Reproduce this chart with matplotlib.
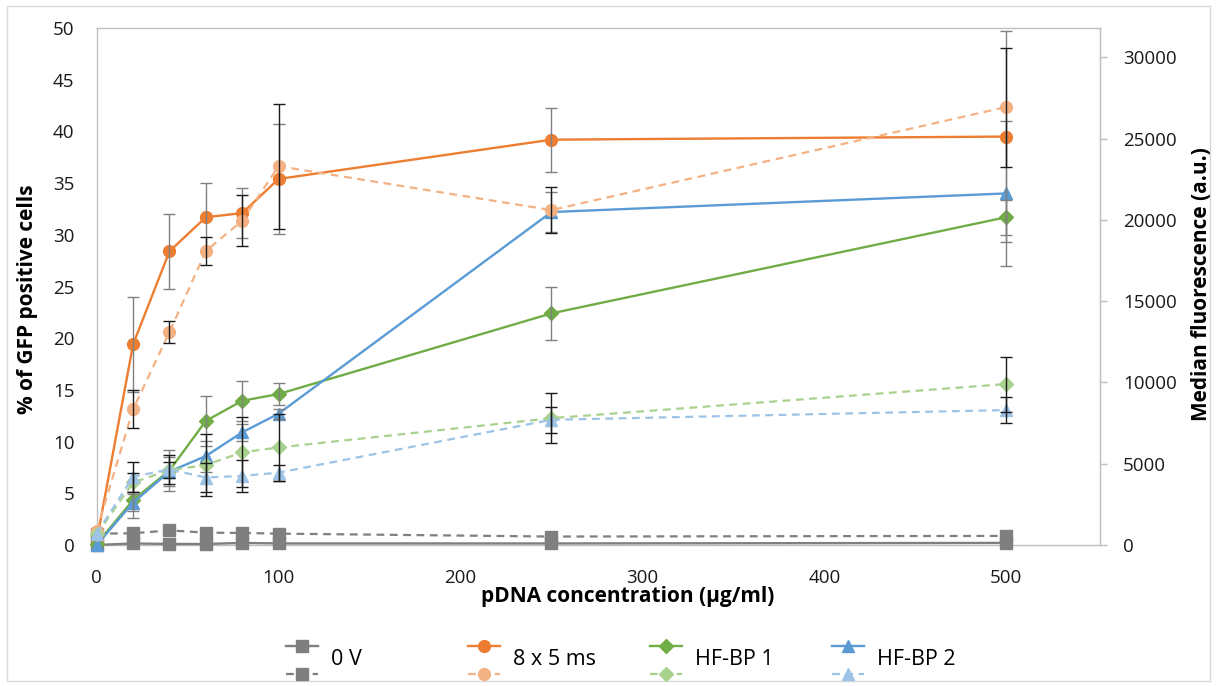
import numpy as np
import matplotlib
matplotlib.use("Agg")
import matplotlib.pyplot as plt
from matplotlib.lines import Line2D
from matplotlib.legend_handler import HandlerBase
from matplotlib.patches import Rectangle

plt.rcParams['font.family'] = ['Open Sans', 'DejaVu Sans']

# ---- data -----------------------------------------------------------------
conc = [0, 20, 40, 60, 80, 100, 250, 500]          # pDNA concentration (ug/ml)

# % of GFP positive cells (left axis, solid lines)
gfp_0v   = [0.0, 0.15, 0.1, 0.1, 0.2, 0.15, 0.15, 0.2]
gfp_8x5  = [0.4, 19.4, 28.4, 31.7, 32.1, 35.4, 39.2, 39.5]
gfp_hf1  = [0.1, 4.35, 7.2, 12.0, 13.95, 14.6, 22.4, 31.7]
gfp_hf2  = [0.0, 4.1, 7.1, 8.6, 10.9, 12.7, 32.2, 34.0]
nan = np.nan
gfp_err_0v  = [nan, nan, nan, nan, nan, nan, nan, nan]
gfp_err_8x5 = [nan, 4.6, 3.6, 3.3, 2.4, 5.3, 3.1, 10.2]
gfp_err_hf1 = [nan, 1.7, 2.0, 2.4, 1.95, 1.1, 2.6, 1.7]
gfp_err_hf2 = [nan, 0.8, 1.4, 1.5, 0.8, 0.5, 1.9, 7.0]

# Median fluorescence (right axis, dashed lines)
mfi_0v  = [700, 720, 900, 760, 740, 700, 520, 560]
mfi_8x5 = [880, 8340, 13100, 18080, 19950, 23300, 20600, 26940]
mfi_hf1 = [650, 3850, 4600, 4920, 5700, 6000, 7800, 9900]
mfi_hf2 = [700, 4200, 4650, 4150, 4250, 4450, 7700, 8300]
mfi_err_0v  = [nan, nan, nan, nan, nan, nan, nan, nan]
mfi_err_8x5 = [nan, 1170, 650, 850, 1550, 3850, 1400, 3660]
mfi_err_hf1 = [nan, 600, 500, 1900, 2150, 2050, 1540, 1690]
mfi_err_hf2 = [nan, 920, 900, 880, 980, 500, 800, 800]

labels = ['0 V', '8 x 5 ms', 'HF-BP 1', 'HF-BP 2']
gfp_sets = [gfp_0v, gfp_8x5, gfp_hf1, gfp_hf2]
gfp_errs = [gfp_err_0v, gfp_err_8x5, gfp_err_hf1, gfp_err_hf2]
mfi_sets = [mfi_0v, mfi_8x5, mfi_hf1, mfi_hf2]
mfi_errs = [mfi_err_0v, mfi_err_8x5, mfi_err_hf1, mfi_err_hf2]

dark_colors = ['#7f7f7f', '#ed7d31', '#70ad47', '#5b9bd5']
light_colors = ['#7f7f7f', '#f4b183', '#a9d18e', '#9dc3e6']
markers = ['s', 'o', 'D', '^']
msizes = [8, 8.5, 7, 9]

# ---- figure ---------------------------------------------------------------
W, H = 1217, 686
fig = plt.figure(figsize=(W / 100, H / 100), dpi=100)
fig.add_artist(Rectangle((7 / W, 1 - 681 / H), (1210 - 7) / W, (681 - 6) / H,
                         transform=fig.transFigure, fill=False,
                         ec='#d9d9d9', lw=1))

x0, x1, y0, y1 = 96.7, 1100, 28, 545
ax = fig.add_axes([x0 / W, 1 - y1 / H, (x1 - x0) / W, (y1 - y0) / H])
ax2 = ax.twinx()

dash = (0, (3.5, 2.5))
solid_lines, dashed_lines = [], []
for i in range(4):
    ln, = ax.plot(conc, gfp_sets[i], color=dark_colors[i], lw=1.7,
                  marker=markers[i], ms=msizes[i], mfc=dark_colors[i],
                  mec=dark_colors[i], clip_on=False, zorder=3)
    ax.errorbar(conc, gfp_sets[i], yerr=gfp_errs[i], fmt='none',
                ecolor='#808080', elinewidth=1, capsize=4.5, capthick=1,
                zorder=4, clip_on=False)
    solid_lines.append(ln)

for i in range(4):
    ln, = ax2.plot(conc, mfi_sets[i], color=light_colors[i], lw=1.6, ls=dash,
                   marker=markers[i], ms=msizes[i], mfc=light_colors[i],
                   mec=light_colors[i], clip_on=False, zorder=3)
    ax2.errorbar(conc, mfi_sets[i], yerr=mfi_errs[i], fmt='none',
                 ecolor='#1a1a1a', elinewidth=1, capsize=4.5, capthick=1,
                 zorder=4, clip_on=False)
    dashed_lines.append(ln)

ax.set_xlim(0, 551.6)
ax.set_ylim(0, 50)
ax2.set_ylim(0, 31800)
ax.set_xticks(np.arange(0, 501, 100))
ax.set_yticks(np.arange(0, 51, 5))
ax2.set_yticks(np.arange(0, 30001, 5000))

spine_c = '#bfbfbf'
for s in ax.spines.values():
    s.set_color(spine_c)
    s.set_linewidth(1)
for name in ['left', 'top', 'bottom']:
    ax2.spines[name].set_visible(False)
ax2.spines['right'].set_color(spine_c)

tick_fs = 13.5
ax.tick_params(axis='y', length=0, pad=16, labelsize=tick_fs, labelcolor='#1a1a1a')
ax.tick_params(axis='x', length=0, pad=17, labelsize=tick_fs, labelcolor='#1a1a1a')
ax2.tick_params(axis='y', length=5, width=1, color=spine_c, pad=11.5,
                labelsize=tick_fs, labelcolor='#1a1a1a')

title_fs = 15
ax.set_ylabel('% of GFP positive cells', fontsize=title_fs, fontweight='bold')
ax.yaxis.set_label_coords(-0.0585, 0.475)
ax2.set_ylabel('Median fluorescence (a.u.)', fontsize=title_fs, fontweight='bold')
ax2.yaxis.set_label_coords(1.0907, 0.505)
ax.set_xlabel('pDNA concentration (µg/ml)', fontsize=title_fs, fontweight='bold')
ax.xaxis.set_label_coords(0.529, -0.0793)


class PairHandler(HandlerBase):
    """Draws a solid/dashed handle pair stacked vertically."""

    def __init__(self, gap, shift=0.0):
        super().__init__()
        self.gap = gap
        self.shift = shift

    def create_artists(self, legend, orig_handle, xdescent, ydescent,
                       width, height, fontsize, trans):
        mid = (height - ydescent) / 2 + self.shift
        out = []
        for src, dy in zip(orig_handle, (self.gap / 2, -self.gap / 2)):
            xs = [-xdescent, -xdescent + width / 2, -xdescent + width]
            ln = Line2D(xs, [mid + dy] * 3)
            ln.update_from(src)
            ln.set_markevery([1])
            ln.set_transform(trans)
            out.append(ln)
        return out


leg_fs = 15.5
for i, lx in enumerate([286, 468, 650, 832]):
    fig.legend(handles=[(solid_lines[i], dashed_lines[i])], labels=[labels[i]],
               handler_map={tuple: PairHandler(20.6, -3.0)},
               loc='center left', bbox_to_anchor=(lx / W, 1 - 658.3 / H),
               frameon=False, fontsize=leg_fs, borderpad=0, borderaxespad=0,
               handlelength=32 * 0.72 / leg_fs, handleheight=1.4,
               handletextpad=0.6)

fig.savefig('out.png', dpi=100)
